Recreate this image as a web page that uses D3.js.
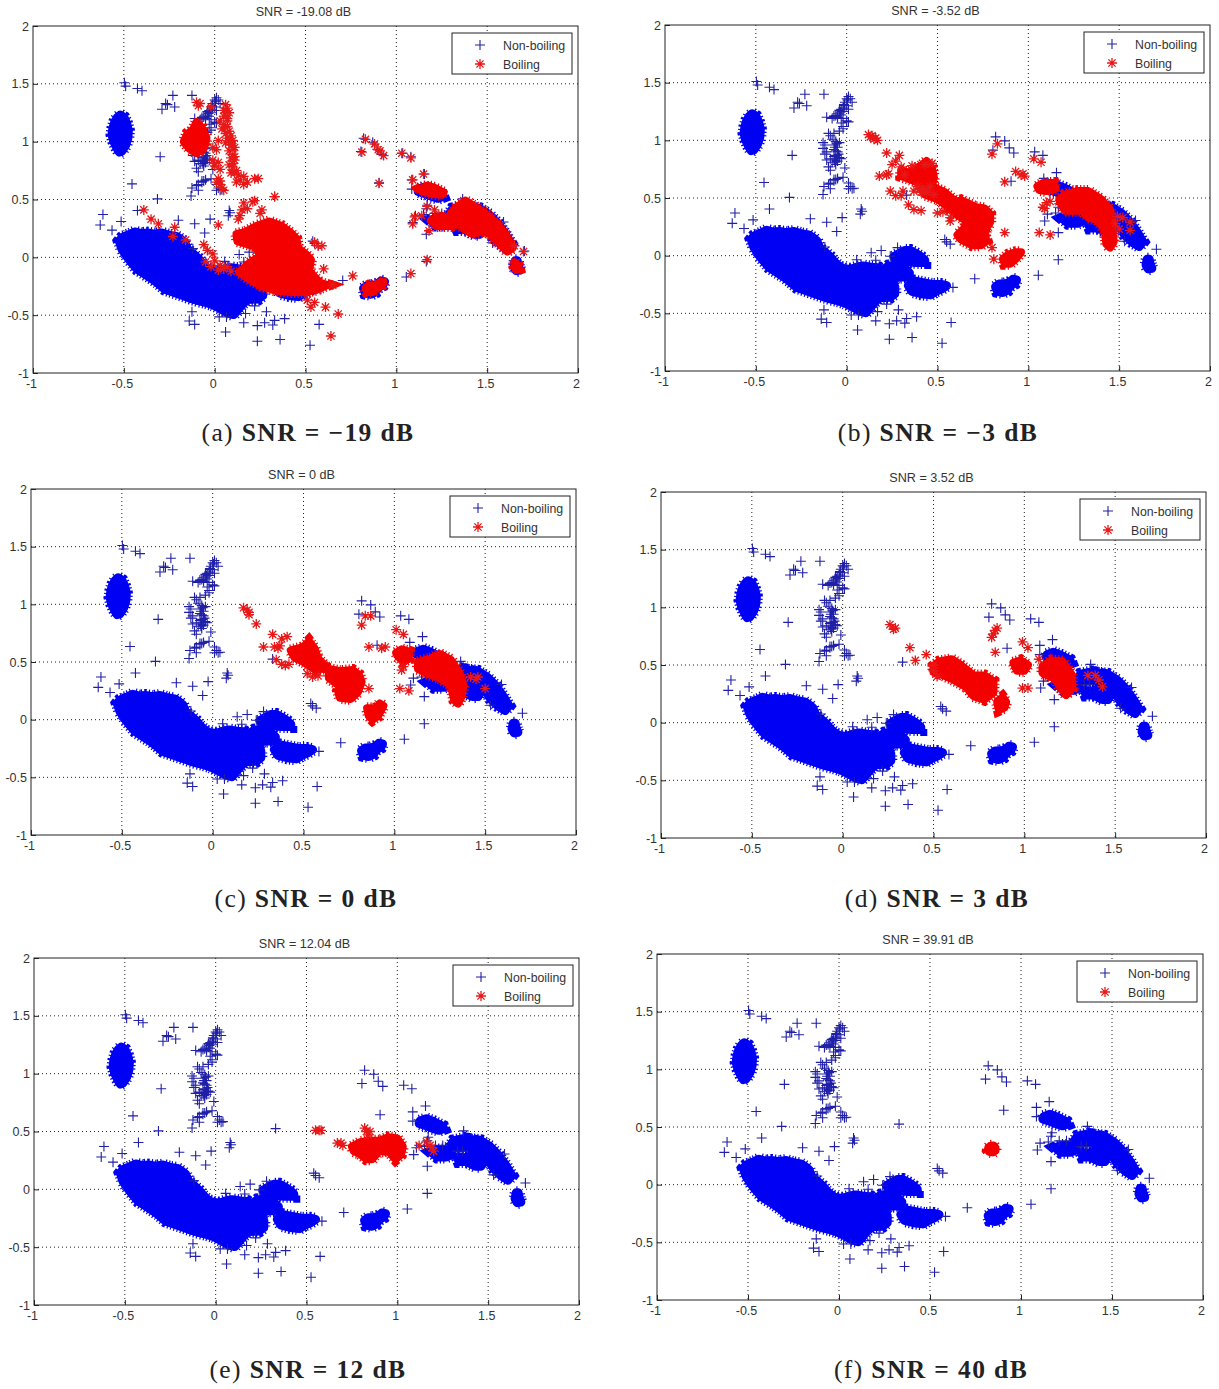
<!DOCTYPE html>
<html>
<head>
<meta charset="utf-8">
<script src="https://cdn.jsdelivr.net/npm/d3@7/dist/d3.min.js"></script>
<style>
body { margin: 0; background: #fff; }
text { font-family: "Liberation Sans", Arial, sans-serif; }
.caption { font-family: "Liberation Serif", serif; font-size: 25.5px; fill: #222; letter-spacing: 1.4px; }
</style>
</head>
<body>
<div id="chart-area"></div>
<script>
// values, [x, y] in axis units
var axisTicks = [-1, -0.5, 0, 0.5, 1, 1.5, 2];
var legendNames = ["Non-boiling", "Boiling"];
var snrTitles = ["SNR = -19.08 dB", "SNR = -3.52 dB", "SNR = 0 dB", "SNR = 3.52 dB", "SNR = 12.04 dB", "SNR = 39.91 dB"];
var captionTags = ["(a)", "(b)", "(c)", "(d)", "(e)", "(f)"];
var captionSnr = ["SNR = \u221219 dB", "SNR = \u22123 dB", "SNR = 0 dB", "SNR = 3 dB", "SNR = 12 dB", "SNR = 40 dB"];

// isolated non-boiling samples
var nonBoilingPoints = [
	[-0.497,1.51],[-0.49,1.48],[-0.425,1.46],[-0.40,1.44],[-0.23,1.40],[-0.125,1.40],[-0.27,1.33],[-0.29,1.28],[-0.22,1.30],[-0.26,1.32],
	[-0.30,0.87],[-0.455,0.635],[-0.315,0.505],[-0.425,0.405],[-0.615,0.37],[-0.63,0.28],[-0.565,0.235],[-0.515,0.31],[-0.2,0.32],[-0.11,0.29],
	[-0.025,0.33],[-0.055,0.21],[0.08,0.405],[0.075,0.36],[0.085,0.385],[0.33,0.525],[0.54,0.14],[0.55,0.12],[0.57,0.10],[0.705,-0.20],
	[0.82,1.03],[0.805,0.915],[0.87,0.995],[0.895,0.935],[0.92,0.89],[0.905,0.645],[1.035,0.90],[1.08,0.87],[1.155,0.72],[1.085,0.67],
	[1.085,0.59],[1.165,0.42],[1.17,0.45],[1.105,0.36],[1.15,0.37],[1.09,0.30],[1.165,0.2],[1.165,-0.035],[1.055,-0.17],[1.705,0.055],
	[1.59,0.305],[1.53,0.125],[1.365,0.505],[1.21,0.38],[1.25,0.38],[1.33,0.33],[1.36,0.33],
	[-0.125,-0.47],[-0.14,-0.55],[-0.11,-0.58],[0.025,-0.515],[0.065,-0.515],[0.06,-0.645],[0.17,-0.485],[0.16,-0.565],[0.235,-0.59],
	[0.285,-0.47],[0.275,-0.565],[0.32,-0.585],[0.33,-0.545],[0.385,-0.53],[0.235,-0.725],[0.36,-0.71],[0.525,-0.76],[0.575,-0.58],[0.22,-0.42],
	[0.055,-0.035],[0.135,0.025],[0.19,0.045],[0.16,-0.04],[0.28,0.07],[0.24,-0.005],[-0.12,0.075],[0.585,-0.275],
	[0.01,1.38],[0.0,1.36],[0.02,1.36],[0.03,1.33],[-0.01,1.33],[0.0,1.30],[-0.02,1.28],[0.01,1.27],[-0.04,1.26],[-0.02,1.25],
	[-0.05,1.23],[-0.03,1.22],[-0.07,1.21],[-0.05,1.20],[0.005,1.35],[-0.01,1.30],[-0.03,1.27],[-0.04,1.23],[-0.06,1.215],[-0.015,1.31],[-0.035,1.245],
	[-0.02,1.19],[0.0,1.17],[-0.03,1.15],[0.01,1.16],[-0.11,1.20],[-0.08,1.19],
	[-0.02,1.12],[-0.02,1.10],[-0.04,1.08],[-0.10,1.06],[-0.09,1.04],[-0.07,1.06],[-0.08,1.01],[-0.13,0.98],[-0.12,0.96],[-0.13,0.93],
	[-0.06,0.99],[-0.04,0.98],[-0.07,0.96],[-0.05,0.94],[-0.07,0.92],[-0.05,0.9],[-0.06,0.87],[-0.04,0.85],[-0.03,0.84],[-0.07,0.83],[-0.05,0.82],[-0.06,0.79],[-0.08,0.81],[-0.055,0.97],[-0.065,0.94],[-0.06,0.91],[-0.045,0.88],[-0.07,0.86],[-0.055,0.84],[-0.065,0.81],
	[-0.11,0.9],[-0.12,0.88],[-0.09,0.84],[-0.11,0.83],[-0.09,0.74],[-0.1,0.77],[-0.01,0.76],
	[-0.07,0.66],[-0.05,0.67],[-0.09,0.63],[-0.02,0.68],[-0.07,0.65],[-0.125,0.6],[-0.13,0.53],[-0.09,0.58],[-0.1,0.62],[-0.06,0.66],
	[0.01,0.63],[0.02,0.6],[0.03,0.58],[0.01,0.58],[0.04,0.585]
];

// saturated non-boiling clusters, outlines of samples
var nonBoilingClusters = [
	[[-0.52,1.23],[-0.50,1.21],[-0.485,1.16],[-0.475,1.10],[-0.478,1.03],[-0.49,0.97],[-0.51,0.92],[-0.525,0.91],[-0.54,0.95],[-0.555,1.0],[-0.565,1.06],[-0.56,1.12],[-0.55,1.17],[-0.535,1.21]],
	[[-0.525,0.14],[-0.51,0.17],[-0.49,0.185],[-0.465,0.2],[-0.44,0.22],[-0.405,0.205],[-0.37,0.21],[-0.33,0.2],[-0.29,0.21],[-0.25,0.19],[-0.21,0.18],[-0.185,0.155],[-0.165,0.13],[-0.155,0.09],[-0.145,0.06],[-0.115,0.025],[-0.09,-0.01],[-0.07,-0.05],[-0.05,-0.08],[-0.025,-0.11],[0.02,-0.12],[0.055,-0.1],[0.09,-0.09],[0.135,-0.1],[0.175,-0.105],[0.21,-0.15],[0.24,-0.2],[0.265,-0.27],[0.265,-0.33],[0.24,-0.36],[0.18,-0.365],[0.15,-0.41],[0.125,-0.46],[0.105,-0.495],[0.07,-0.48],[0.04,-0.45],[-0.01,-0.41],[-0.05,-0.39],[-0.09,-0.375],[-0.13,-0.355],[-0.175,-0.33],[-0.23,-0.3],[-0.275,-0.275],[-0.315,-0.22],[-0.35,-0.18],[-0.39,-0.14],[-0.425,-0.105],[-0.455,-0.05],[-0.48,0.0],[-0.51,0.07]],
	[[0.26,-0.01],[0.29,0.02],[0.32,0.045],[0.35,0.045],[0.38,0.02],[0.41,-0.01],[0.43,-0.04],[0.43,-0.06],[0.38,-0.06],[0.32,-0.05],[0.28,-0.03]],
	[[0.2,-0.13],[0.23,-0.09],[0.28,-0.085],[0.32,-0.11],[0.345,-0.15],[0.335,-0.18],[0.27,-0.19],[0.22,-0.18]],
	[[0.34,-0.26],[0.37,-0.22],[0.42,-0.235],[0.47,-0.25],[0.52,-0.25],[0.55,-0.26],[0.52,-0.29],[0.49,-0.31],[0.46,-0.34],[0.41,-0.33],[0.36,-0.31]],
	[[0.82,-0.27],[0.84,-0.245],[0.87,-0.245],[0.9,-0.23],[0.915,-0.205],[0.935,-0.21],[0.925,-0.24],[0.9,-0.26],[0.885,-0.3],[0.86,-0.32],[0.83,-0.31]],
	[[1.125,0.59],[1.16,0.61],[1.2,0.585],[1.25,0.545],[1.255,0.525],[1.23,0.51],[1.19,0.53],[1.15,0.555],[1.12,0.57]],
	[[1.19,0.32],[1.22,0.34],[1.28,0.34],[1.30,0.30],[1.27,0.28],[1.22,0.28]],
	[[1.29,0.37],[1.31,0.42],[1.37,0.44],[1.42,0.42],[1.40,0.37],[1.33,0.36]],
	[[1.40,0.43],[1.46,0.42],[1.51,0.37],[1.56,0.29],[1.60,0.2],[1.63,0.12],[1.61,0.08],[1.57,0.12],[1.53,0.18],[1.50,0.26],[1.45,0.32],[1.40,0.36]],
	[[1.33,0.28],[1.37,0.27],[1.40,0.29],[1.44,0.33],[1.47,0.25],[1.46,0.2],[1.43,0.2],[1.38,0.24],[1.34,0.24]],
	[[1.655,-0.03],[1.665,-0.03],[1.672,-0.08],[1.68,-0.11],[1.66,-0.115],[1.648,-0.08]]
];

// boiling samples per panel
var boilingPointsA = [
	[0.06,1.32],[0.07,1.29],[0.05,1.27],[0.08,1.25],[0.05,1.22],[0.07,1.2],[0.03,1.18],[0.05,1.15],[0.07,1.13],[0.04,1.11],[0.08,1.09],[0.06,1.07],[0.09,1.05],[0.07,1.03],[0.1,1.01],[0.06,0.99],[0.09,0.97],[0.11,0.95],[0.08,0.92],[0.1,0.89],[0.09,0.86],[0.11,0.84],[0.08,0.8],[0.1,0.78],[0.12,0.75],[0.09,0.73],
	[0.06,1.25],[0.07,1.18],[0.06,1.12],[0.08,1.03],[0.09,1.0],[0.1,0.93],[0.11,0.87],[0.1,0.81],[0.11,0.73],
	[0.02,1.01],[-0.01,0.95],[0.01,0.93],[-0.01,0.84],[0.02,0.82],[0.0,0.79],[0.03,0.76],[0.02,0.68],[0.03,0.63],[0.04,0.6],[0.05,0.58],[0.01,0.65],[0.03,0.66],[0.0,0.81],[0.13,0.71],[0.16,0.7],[0.14,0.67],[0.18,0.65],[0.22,0.68],[0.24,0.68],[0.12,0.65],[0.16,0.63],[-0.09,1.31],[-0.1,1.34],[-0.08,1.33],[-0.02,1.3],
	[0.33,0.525],[0.22,0.49],[0.21,0.48],[0.16,0.47],[0.15,0.41],[0.18,0.42],[0.14,0.36],[0.26,0.41],[0.25,0.38],[0.13,0.33],[0.02,0.28],[-0.39,0.41],[-0.35,0.33],[-0.31,0.29],[-0.22,0.26],[-0.23,0.18],[-0.16,0.15],[-0.06,0.11],[-0.04,0.06],[-0.01,0.03],[0.0,-0.03],[-0.05,-0.04],[-0.02,-0.08],[0.03,-0.07],[0.05,-0.1],[0.02,-0.11],[0.07,-0.08],[0.09,-0.12],[0.55,0.13],[0.57,0.1],[0.59,0.1],[0.6,-0.1],[0.76,-0.16],[0.65,-0.24],[0.51,-0.37],[0.53,-0.43],[0.61,-0.43],[0.68,-0.49],[0.64,-0.68],[0.55,-0.39],
	[0.83,1.02],[0.88,0.98],[0.9,0.93],[0.91,0.92],[0.93,0.88],[0.81,0.91],[0.905,0.64],[1.03,0.9],[1.08,0.86],[1.15,0.72],[1.09,0.67],[1.17,0.44],[1.14,0.36],[1.1,0.35],[1.09,0.29],[1.17,-0.02],[1.08,-0.14],[1.21,0.41],[1.18,0.23],[1.7,0.05],[1.65,0.1]
];
var boilingClustersA = [
	[[0.12,0.2],[0.17,0.22],[0.23,0.27],[0.3,0.31],[0.37,0.27],[0.42,0.21],[0.45,0.16],[0.46,0.08],[0.5,0.03],[0.53,-0.02],[0.52,-0.12],[0.58,-0.22],[0.62,-0.24],[0.56,-0.28],[0.5,-0.3],[0.42,-0.3],[0.34,-0.29],[0.26,-0.25],[0.2,-0.2],[0.135,-0.13],[0.19,-0.05],[0.25,0.01],[0.23,0.09],[0.125,0.14]],
	[[-0.1,1.17],[-0.07,1.12],[-0.045,1.03],[-0.06,0.94],[-0.1,0.9],[-0.14,0.94],[-0.17,1.0],[-0.15,1.07],[-0.12,1.1]],
	[[0.83,-0.265],[0.85,-0.245],[0.88,-0.25],[0.91,-0.215],[0.93,-0.21],[0.92,-0.24],[0.89,-0.27],[0.87,-0.3],[0.84,-0.3]],
	[[1.13,0.59],[1.17,0.62],[1.21,0.6],[1.26,0.56],[1.25,0.54],[1.2,0.55],[1.14,0.57]],
	[[1.3,0.38],[1.33,0.43],[1.38,0.49],[1.43,0.44],[1.49,0.38],[1.55,0.3],[1.6,0.2],[1.64,0.08],[1.61,0.05],[1.56,0.13],[1.5,0.22],[1.46,0.3],[1.4,0.31],[1.35,0.33]],
	[[1.19,0.32],[1.25,0.36],[1.33,0.32],[1.3,0.27],[1.22,0.27]],
	[[1.35,0.28],[1.42,0.3],[1.46,0.22],[1.42,0.2],[1.37,0.25]],
	[[1.655,-0.05],[1.67,-0.07],[1.675,-0.1],[1.66,-0.11],[1.65,-0.08],[1.65,-0.04]]
];
var boilingPointsB = [
	[0.12,1.05],[0.13,1.03],[0.14,1.04],[0.15,1.01],[0.16,1.02],[0.17,1.0],[0.22,0.89],[0.29,0.87],[0.27,0.82],[0.25,0.79],[0.3,0.77],[0.18,0.69],[0.22,0.7],[0.23,0.71],[0.24,0.56],[0.27,0.52],[0.3,0.52],[0.31,0.56],[0.34,0.44],[0.37,0.4],[0.41,0.39],[0.5,0.37],[0.53,0.38],[0.57,0.33],[0.57,0.3],[0.42,0.58],[0.44,0.55],[0.48,0.53],[0.37,0.56],[0.39,0.6],[0.41,0.55],[0.46,0.6],[0.47,0.8],[0.43,0.79],[0.36,0.78],[0.32,0.7],[0.87,0.2],[0.8,0.07],[0.81,-0.03],[0.83,0.97],[0.8,0.88],[0.87,0.64],[0.93,0.73],[0.97,0.71],[0.96,0.7],[0.98,0.69],[1.03,0.84],[1.07,0.81],[1.06,0.2],[1.12,0.18],[1.09,0.41],[1.1,0.46],[1.12,0.47],[1.08,0.42],[1.49,0.34],[1.52,0.33],[1.56,0.29],[1.5,0.23],[1.56,0.22],[1.48,0.28]
];
var boilingClustersB = [
	[[0.59,0.46],[0.63,0.48],[0.66,0.46],[0.71,0.42],[0.76,0.41],[0.79,0.36],[0.79,0.29],[0.77,0.24],[0.76,0.18],[0.77,0.13],[0.74,0.09],[0.69,0.09],[0.63,0.14],[0.61,0.18],[0.65,0.24],[0.66,0.3],[0.6,0.36],[0.57,0.4]],
	[[0.3,0.74],[0.34,0.72],[0.37,0.75],[0.41,0.78],[0.44,0.82],[0.47,0.76],[0.48,0.68],[0.47,0.6],[0.54,0.55],[0.6,0.47],[0.56,0.42],[0.5,0.49],[0.43,0.53],[0.4,0.63],[0.3,0.69]],
	[[0.86,-0.03],[0.89,0.01],[0.93,0.03],[0.96,0.03],[0.93,-0.03],[0.9,-0.07],[0.87,-0.07]],
	[[1.05,0.6],[1.08,0.63],[1.14,0.63],[1.15,0.58],[1.1,0.56],[1.06,0.57]],
	[[1.17,0.48],[1.2,0.53],[1.27,0.56],[1.33,0.56],[1.4,0.49],[1.45,0.4],[1.46,0.25],[1.47,0.12],[1.45,0.07],[1.43,0.1],[1.42,0.22],[1.38,0.31],[1.33,0.33],[1.3,0.39],[1.2,0.39]]
];
var boilingPointsC = [
	[0.17,0.97],[0.19,0.95],[0.2,0.93],[0.2,0.91],[0.24,0.83],[0.33,0.74],[0.28,0.63],[0.34,0.63],[0.36,0.62],[0.38,0.7],[0.41,0.72],[0.37,0.64],[0.4,0.47],[0.38,0.48],[0.42,0.48],[0.35,0.52],[0.52,0.4],[0.55,0.37],[0.58,0.38],[0.86,0.27],[0.82,0.82],[0.84,0.9],[0.87,0.9],[0.86,0.63],[0.95,0.63],[0.93,0.62],[1.01,0.78],[1.05,0.74],[1.03,0.27],[1.08,0.25],[1.04,0.43],[1.05,0.46],[1.46,0.37],[1.42,0.37],[1.5,0.27],[1.45,0.35]
];
var boilingClustersC = [
	[[0.64,0.44],[0.7,0.42],[0.77,0.43],[0.805,0.39],[0.82,0.33],[0.8,0.24],[0.76,0.18],[0.7,0.19],[0.69,0.25],[0.7,0.29],[0.64,0.36]],
	[[0.43,0.6],[0.5,0.63],[0.53,0.68],[0.56,0.62],[0.58,0.53],[0.63,0.45],[0.57,0.43],[0.5,0.5],[0.45,0.54]],
	[[0.85,0.1],[0.9,0.1],[0.92,0.14],[0.94,0.12],[0.91,0.03],[0.88,0.0],[0.86,0.03]],
	[[1.01,0.58],[1.04,0.61],[1.08,0.59],[1.08,0.53],[1.05,0.5],[1.02,0.55]],
	[[1.13,0.5],[1.2,0.53],[1.25,0.57],[1.31,0.52],[1.36,0.4],[1.38,0.3],[1.37,0.2],[1.35,0.14],[1.33,0.17],[1.31,0.3],[1.25,0.36],[1.18,0.4],[1.13,0.44]]
];
var boilingPointsD = [
	[0.26,0.85],[0.28,0.81],[0.29,0.82],[0.37,0.65],[0.4,0.54],[0.46,0.59],[0.84,0.8],[0.85,0.82],[0.83,0.77],[0.82,0.74],[0.84,0.61],[0.99,0.7],[1.02,0.65],[0.99,0.3],[1.02,0.3],[1.08,0.55],[1.35,0.41],[1.39,0.41],[1.41,0.37],[1.43,0.31],[0.5,0.5],[0.5,0.45],[0.52,0.4]
];
var boilingClustersD = [
	[[0.5,0.49],[0.53,0.53],[0.6,0.55],[0.65,0.5],[0.72,0.41],[0.78,0.41],[0.83,0.36],[0.83,0.26],[0.78,0.2],[0.72,0.23],[0.68,0.31],[0.6,0.38],[0.54,0.42],[0.5,0.44]],
	[[0.85,0.18],[0.88,0.22],[0.9,0.18],[0.89,0.13],[0.86,0.11]],
	[[0.94,0.52],[0.98,0.54],[1.02,0.5],[1.0,0.45],[0.96,0.45]],
	[[1.1,0.49],[1.15,0.54],[1.21,0.53],[1.26,0.42],[1.265,0.3],[1.23,0.24],[1.2,0.3],[1.17,0.38],[1.1,0.43]]
];
var boilingPointsE = [
	[0.55,0.51],[0.57,0.51],[0.58,0.51],[0.82,0.53],[0.83,0.5],[0.84,0.47],[0.85,0.5],[0.67,0.4],[0.69,0.4],[0.7,0.38],[1.12,0.38],[1.18,0.38],[1.19,0.36],[1.2,0.33],[1.16,0.41]
];
var boilingClustersE = [
	[[0.75,0.37],[0.8,0.41],[0.85,0.42],[0.9,0.42],[0.95,0.45],[1.0,0.44],[1.03,0.37],[1.02,0.3],[0.99,0.26],[0.95,0.33],[0.9,0.33],[0.86,0.26],[0.83,0.26],[0.79,0.31],[0.76,0.33]]
];
var boilingPointsF = [];
var boilingClustersF = [
	[[0.82,0.32],[0.83,0.335],[0.85,0.34],[0.86,0.32],[0.86,0.295],[0.845,0.28],[0.825,0.285],[0.818,0.3]]
];

var boilingPoints = [boilingPointsA, boilingPointsB, boilingPointsC, boilingPointsD, boilingPointsE, boilingPointsF];
var boilingClusters = [boilingClustersA, boilingClustersB, boilingClustersC, boilingClustersD, boilingClustersE, boilingClustersF];

// layout of the six axes in the page
var panelBoxes = [
	{left: 33, right: 578, top: 26, bottom: 373, capX: 308, capY: 441},
	{left: 665, right: 1210, top: 25, bottom: 371, capX: 938, capY: 441},
	{left: 31, right: 576, top: 489, bottom: 835, capX: 306, capY: 907},
	{left: 661, right: 1206, top: 492, bottom: 838, capX: 937, capY: 907},
	{left: 34, right: 579, top: 958, bottom: 1305, capX: 308, capY: 1378},
	{left: 657, right: 1203, top: 954, bottom: 1300, capX: 931, capY: 1378}
];

var plusColor = "#1f1fa8";
var blobBlue = "#0000f5";
var red = "#f50000";
var plusSize = 5;
var starSize = 5;

var svg = d3.select("#chart-area").append("svg")
	.attr("width", 1219)
	.attr("height", 1389)
	.style("display", "block");

function plusPath(px, py) {
	return "M" + (px - plusSize) + "," + py + "H" + (px + plusSize) + "M" + px + "," + (py - plusSize) + "V" + (py + plusSize);
}
function starPath(px, py) {
	var s = starSize, k = starSize * 0.72;
	return "M" + (px - s) + "," + py + "H" + (px + s) + "M" + px + "," + (py - s) + "V" + (py + s) +
		"M" + (px - k) + "," + (py - k) + "L" + (px + k) + "," + (py + k) +
		"M" + (px - k) + "," + (py + k) + "L" + (px + k) + "," + (py - k);
}

panelBoxes.forEach((box, i) => {
	var g = svg.append("g").attr("class", "panel");

	var x = d3.scaleLinear().domain([-1, 2]).range([box.left, box.right]);
	var y = d3.scaleLinear().domain([-1, 2]).range([box.bottom, box.top]);

	// dotted grid
	axisTicks.slice(1, -1).forEach((t) => {
		g.append("line").attr("x1", x(t)).attr("x2", x(t)).attr("y1", box.top).attr("y2", box.bottom)
			.attr("stroke", "#222").attr("stroke-dasharray", "1,3");
		g.append("line").attr("x1", box.left).attr("x2", box.right).attr("y1", y(t)).attr("y2", y(t))
			.attr("stroke", "#222").attr("stroke-dasharray", "1,3");
	});

	var outline = d3.line().x((d) => x(d[0])).y((d) => y(d[1])).curve(d3.curveLinearClosed);

	function drawSeries(clusters, points, marker, color, pointColor, solidWidth, fringeWidth, markWidth) {
		var blobs = g.append("g");
		blobs.selectAll("path.solid").data(clusters).enter().append("path")
			.attr("class", "solid")
			.attr("d", outline)
			.attr("fill", color)
			.attr("stroke", color)
			.attr("stroke-width", solidWidth)
			.attr("stroke-linejoin", "round");
		// overplotted markers leave a hairy edge round each cluster
		blobs.selectAll("path.fringe").data(clusters).enter().append("path")
			.attr("class", "fringe")
			.attr("d", outline)
			.attr("fill", "none")
			.attr("stroke", color)
			.attr("stroke-width", fringeWidth)
			.attr("stroke-dasharray", "1.2,2.2");
		g.append("path")
			.attr("d", points.map((d) => marker(x(d[0]), y(d[1]))).join(""))
			.attr("fill", "none")
			.attr("stroke", pointColor)
			.attr("stroke-width", markWidth);
	}

	drawSeries(nonBoilingClusters, nonBoilingPoints, plusPath, blobBlue, plusColor, 9, 13, 1.1);
	drawSeries(boilingClusters[i], boilingPoints[i], starPath, red, "#e81818", 8, 12, 1.3);

	// axes
	var bottomAxis = d3.axisBottom(x).tickValues(axisTicks).tickFormat((d) => String(d)).tickSize(-5).tickPadding(6);
	var leftAxis = d3.axisLeft(y).tickValues(axisTicks).tickFormat((d) => String(d)).tickSize(-5).tickPadding(4);
	[g.append("g").attr("transform", "translate(0," + box.bottom + ")").call(bottomAxis),
	 g.append("g").attr("transform", "translate(" + box.left + ",0)").call(leftAxis)].forEach((a) => {
		a.select(".domain").remove();
		a.selectAll("line").attr("stroke", "#222");
		a.selectAll("text").attr("font-size", "12.5px").attr("fill", "#333")
			.style("font-family", "'Liberation Sans', Arial, sans-serif");
	});
	g.selectAll("g").filter(function() { return this.getAttribute("text-anchor") === "middle"; })
		.selectAll("text").attr("dx", -2);
	g.append("rect")
		.attr("x", box.left).attr("y", box.top)
		.attr("width", box.right - box.left).attr("height", box.bottom - box.top)
		.attr("fill", "none").attr("stroke", "#222");

	// title
	g.append("text")
		.attr("x", (box.left + box.right) / 2 - 2)
		.attr("y", box.top - 10)
		.attr("text-anchor", "middle")
		.attr("font-size", "12.6px")
		.attr("fill", "#333")
		.text(snrTitles[i]);

	// legend
	var lx = box.right - 126, ly = box.top + 7;
	var legend = g.append("g").attr("transform", "translate(" + lx + "," + ly + ")");
	legend.append("rect").attr("width", 120).attr("height", 41).attr("fill", "#fff").attr("stroke", "#222");
	legend.append("path").attr("d", plusPath(28, 12)).attr("fill", "none").attr("stroke", plusColor).attr("stroke-width", 1.1);
	legend.append("path").attr("d", starPath(28, 31)).attr("fill", "none").attr("stroke", "#e81818").attr("stroke-width", 1.3);
	legendNames.forEach((name, k) => {
		legend.append("text").attr("x", 51).attr("y", 16.5 + k * 19)
			.attr("font-size", "12.3px").attr("fill", "#333").text(name);
	});

	// caption below the axes
	var cap = g.append("text").attr("class", "caption")
		.attr("x", box.capX).attr("y", box.capY).attr("text-anchor", "middle");
	cap.append("tspan").text(captionTags[i] + " ");
	cap.append("tspan").attr("font-weight", "bold").text(captionSnr[i]);
});
</script>
</body>
</html>
